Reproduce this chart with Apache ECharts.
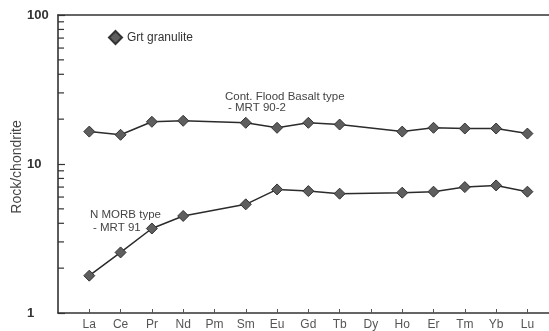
<!DOCTYPE html>
<html><head><meta charset="utf-8">
<script src="https://cdn.jsdelivr.net/npm/echarts@6/dist/echarts.min.js"></script>
<style>html,body{margin:0;padding:0;background:#fff}#c{width:549px;height:331px}</style>
</head><body><div id="c"></div>
<script>
const elements = ['La','Ce','Pr','Nd','Pm','Sm','Eu','Gd','Tb','Dy','Ho','Er','Tm','Yb','Lu'];
// null = not analysed (Pm, Dy)
const floodBasalt = [16.5,15.7,19.2,19.5,null,18.9,17.5,18.9,18.4,null,16.5,17.5,17.3,17.3,16.0];
const nMorb = [1.78,2.55,3.69,4.48,null,5.36,6.75,6.58,6.32,null,6.42,6.52,7.0,7.18,6.52];
const yMajorTicks = [1,10,100];
const yMinorTicks = [2,3,4,5,6,7,8,9,20,30,40,50,60,70,80,90];
const legendName = 'Grt granulite';
const yTitle = 'Rock/chondrite';

const toPairs = arr => arr.map((v,i)=>v==null?null:[i,v]).filter(p=>p);
const FONT = '"Liberation Sans", Arial, sans-serif';
const xMin = -1, xMax = 14.69;

const chart = echarts.init(document.getElementById('c'), null, {renderer:'canvas'});
const seriesStyle = {
  type:'line', name: legendName, symbol:'diamond', symbolSize:11,
  lineStyle:{color:'#2b2b2b', width:1.5},
  itemStyle:{color:'#5e5e5e', borderColor:'#333', borderWidth:1},
  emphasis:{disabled:true}, animation:false, z:3
};
chart.setOption({
  backgroundColor:'#fff',
  animation:false,
  grid:{left:58, top:15, right:0, bottom:18, containLabel:false, outerBoundsMode:'none'},
  legend:{data:[legendName], left:103, top:25, icon:'diamond', itemWidth:13, itemHeight:13, itemGap:10,
    textStyle:{fontFamily:FONT, fontSize:12, color:'#333'}, selectedMode:false},
  xAxis:[{
    type:'value', min:xMin, max:xMax,
    axisLine:{show:true, onZero:false, lineStyle:{color:'#333', width:1.5}},
    axisTick:{show:true, inside:true, length:4, customValues: elements.map((e,i)=>i), lineStyle:{color:'#555'}},
    axisLabel:{customValues: elements.map((e,i)=>i), formatter: v => elements[Math.round(v)] || '',
      fontFamily:FONT, fontSize:12, color:'#555', margin:6},
    splitLine:{show:false}
  },{
    type:'value', position:'top', min:xMin, max:xMax,
    axisLine:{show:true, onZero:false, lineStyle:{color:'#333', width:1.5}},
    axisTick:{show:false}, axisLabel:{show:false}, splitLine:{show:false}
  }],
  yAxis:{
    type:'log', logBase:10, min:1, max:100,
    axisLine:{show:true, onZero:false, lineStyle:{color:'#333', width:1.6}},
    axisTick:{show:true, inside:true, length:7, customValues: yMajorTicks, lineStyle:{color:'#333', width:1.2}},
    axisLabel:{customValues: yMajorTicks, align:'left', margin:31, fontFamily:FONT, fontSize:13, fontWeight:'bold', color:'#333',
      verticalAlign:'middle'},
    splitLine:{show:false}
  },
  series:[
    Object.assign({data: toPairs(floodBasalt)}, seriesStyle),
    Object.assign({data: toPairs(nMorb)}, seriesStyle),
    {
      type:'custom', name:'minorTicks', silent:true, animation:false, z:4,
      data: yMinorTicks.map(v=>[xMin, v]),
      renderItem:(params, api)=>{
        const p = api.coord([api.value(0), api.value(1)]);
        return {type:'line', shape:{x1:p[0], y1:p[1], x2:p[0]+6, y2:p[1]},
          style:{stroke:'#333', lineWidth:1.2}};
      }
    }
  ],
  graphic:[
    {type:'text', x:17, y:167, rotation:Math.PI/2,
      style:{text:yTitle, font:'14px '+FONT, fill:'#444', align:'center', verticalAlign:'middle'}},
    {type:'text', left:225, top:91, style:{text:'Cont. Flood Basalt type', font:'11.5px '+FONT, fill:'#444'}},
    {type:'text', left:228, top:102, style:{text:'- MRT 90-2', font:'11.5px '+FONT, fill:'#444'}},
    {type:'text', left:90, top:209, style:{text:'N MORB type', font:'11.5px '+FONT, fill:'#444'}},
    {type:'text', left:93, top:222, style:{text:'- MRT 91', font:'11.5px '+FONT, fill:'#444'}}
  ]
});
</script></body></html>
